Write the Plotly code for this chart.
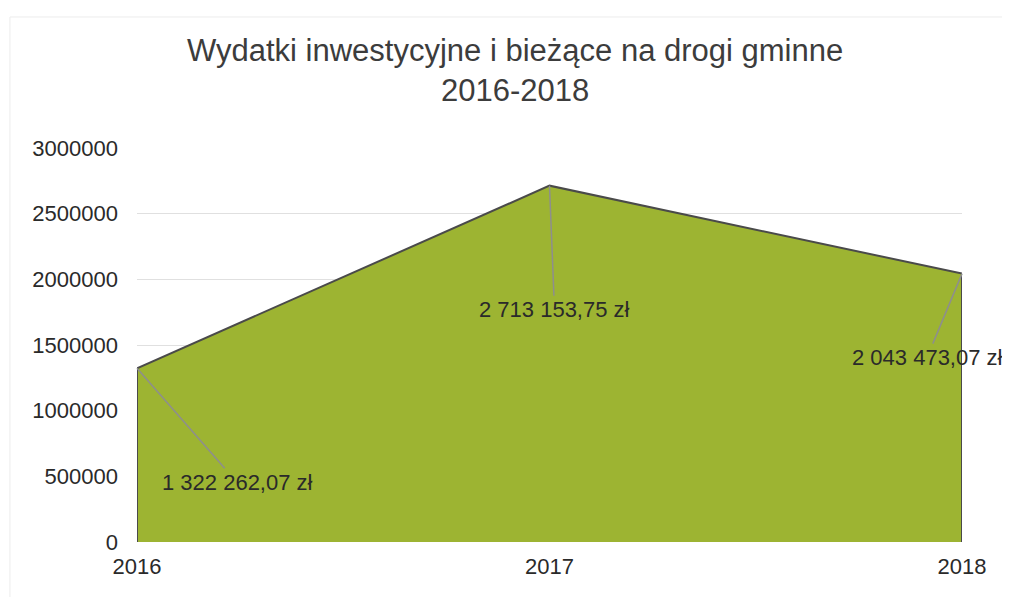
import plotly.graph_objects as go

years = [2016, 2017, 2018]
values = [1322262.07, 2713153.75, 2043473.07]
labels = ["1 322 262,07 zł", "2 713 153,75 zł", "2 043 473,07 zł"]
y_ticks = [0, 500000, 1000000, 1500000, 2000000, 2500000, 3000000]
title_lines = ["Wydatki inwestycyjne i bieżące na drogi gminne", "2016-2018"]

FONT = "Liberation Sans, Arial"

# closed outline built from the data (left edge, top, right edge)
poly_x = [years[0]] + years + [years[-1]]
poly_y = [0] + values + [0]

fig = go.Figure()
fig.add_trace(go.Scatter(
    x=poly_x, y=poly_y, mode="lines", fill="toself",
    fillcolor="#9db432", line=dict(color="#4a4a4a", width=2),
    hoverinfo="skip", showlegend=False,
))

offsets = [(100, 114), (5, 124), (-35, 84)]
for x, v, lab, (ax, ay) in zip(years, values, labels, offsets):
    fig.add_annotation(
        x=x, y=v, text=lab, showarrow=True, arrowhead=0, arrowwidth=1.5,
        arrowcolor="#8e8e8e", ax=ax, ay=ay,
        font=dict(family=FONT, size=22, color="#2a2a2a"),
    )

# title lines (placed individually for tight line spacing)
for txt, ypos in zip(title_lines, [1.2487, 1.1472]):
    fig.add_annotation(
        xref="paper", yref="paper", x=0.458, y=ypos, text=txt,
        showarrow=False, xanchor="center", yanchor="middle",
        font=dict(family=FONT, size=31, color="#3c3c3c"),
    )

# faint chart border (top and left edges only)
fig.add_shape(type="line", xref="paper", yref="paper",
              x0=-0.154, x1=1.06, y0=1.3325, y1=1.3325,
              line=dict(color="#ececec", width=1), layer="below")
fig.add_shape(type="line", xref="paper", yref="paper",
              x0=-0.154, x1=-0.154, y0=-0.15, y1=1.3325,
              line=dict(color="#ececec", width=1), layer="below")

fig.update_layout(
    width=1010, height=597,
    paper_bgcolor="white", plot_bgcolor="white",
    margin=dict(l=129, r=56, t=140, b=63),
    font=dict(family=FONT, color="#2a2a2a"),
    xaxis=dict(
        range=[years[0], years[-1]], tickvals=years,
        ticktext=[str(y) for y in years], showgrid=False, zeroline=False,
        showline=False, tickfont=dict(size=22, color="#2a2a2a"), ticklen=0,
        ticklabelstandoff=9,
    ),
    yaxis=dict(
        range=[0, 3000000], tickvals=y_ticks,
        ticktext=[str(t) for t in y_ticks], showgrid=True,
        gridcolor="#e0e0e0", gridwidth=1, zeroline=False, showline=False,
        tickfont=dict(size=22, color="#2a2a2a"), ticks="", ticklabelstandoff=18,
    ),
)

fig.write_html("out.html")
